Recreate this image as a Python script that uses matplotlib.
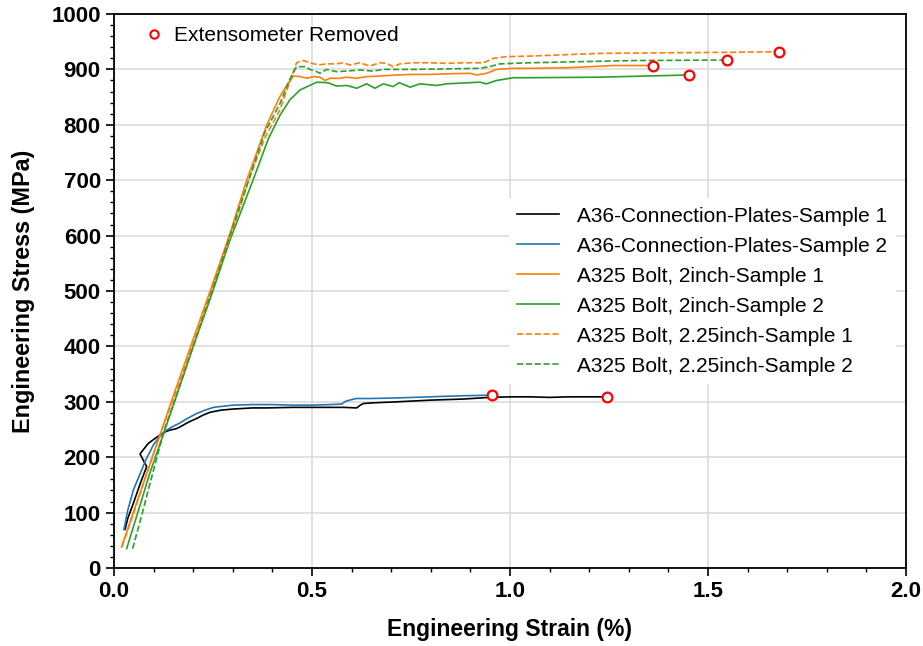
"""Engineering stress-strain curves for A36 plates and A325 bolts."""

import matplotlib

matplotlib.use("Agg")
import matplotlib.pyplot as plt
from matplotlib.lines import Line2D
from matplotlib.ticker import MultipleLocator

plt.rcParams["font.family"] = ["Liberation Sans", "DejaVu Sans"]

# A36 connection plates
a36_s1_strain = [0.028, 0.035, 0.049, 0.065, 0.0825, 0.0657, 0.0866, 0.1, 0.112, 0.13, 0.141,
                 0.155, 0.162, 0.175, 0.19, 0.209, 0.225, 0.242, 0.27, 0.301, 0.35, 0.386, 0.45,
                 0.52, 0.58, 0.613, 0.622, 0.63, 0.65, 0.714, 0.798, 0.882, 0.949, 1.0, 1.05,
                 1.1, 1.15, 1.2, 1.245]
a36_s1_stress = [70, 90, 117, 150, 183, 206, 225, 232, 238, 246, 249, 251, 253, 258, 264, 270,
                 276, 281, 285, 287, 289, 289, 290, 290, 290, 289, 294, 297, 298, 300, 303, 305,
                 308, 309, 309, 308, 309, 309, 309]

a36_s2_strain = [0.025, 0.035, 0.049, 0.06, 0.07, 0.08, 0.091, 0.1, 0.112, 0.122, 0.133, 0.15,
                 0.167, 0.185, 0.209, 0.23, 0.251, 0.275, 0.301, 0.35, 0.4, 0.45, 0.5, 0.545,
                 0.575, 0.585, 0.6, 0.613, 0.65, 0.714, 0.798, 0.882, 0.954]
a36_s2_stress = [69, 105, 141, 160, 177, 195, 210, 223, 234, 242, 249, 256, 262, 270, 279, 285,
                 290, 292, 294, 295, 295, 294, 294, 295, 296, 301, 304, 306, 306, 307, 309, 311,
                 312]

# A325 bolt, 2 inch
b2_s1_strain = [0.019, 0.05, 0.08, 0.116, 0.146, 0.2, 0.25, 0.293, 0.335, 0.386, 0.419, 0.436,
                0.453, 0.47, 0.487, 0.503, 0.52, 0.533, 0.545, 0.57, 0.587, 0.612, 0.638, 0.671,
                0.714, 0.756, 0.798, 0.84, 0.899, 0.916, 0.941, 0.966, 1.008, 1.05, 1.143, 1.265,
                1.345, 1.36]
b2_s1_stress = [38, 103, 165, 240, 303, 413, 515, 604, 700, 800, 851, 871, 888, 887, 884, 887,
                886, 880, 884, 884, 886, 884, 887, 888, 890, 891, 891, 892, 893, 890, 893, 900,
                902, 902, 903, 907, 907, 907]

b2_s2_strain = [0.032, 0.06, 0.09, 0.12, 0.154, 0.2, 0.242, 0.293, 0.351, 0.39, 0.419, 0.444,
                0.47, 0.512, 0.54, 0.562, 0.588, 0.613, 0.638, 0.659, 0.68, 0.705, 0.72, 0.748,
                0.773, 0.815, 0.84, 0.924, 0.94, 0.966, 1.008, 1.05, 1.227, 1.453]
b2_s2_stress = [35, 100, 170, 232, 303, 400, 484, 592, 700, 775, 817, 845, 863, 877, 876, 870,
                871, 866, 874, 866, 874, 869, 876, 868, 874, 871, 874, 877, 874, 880, 885, 885,
                886, 890]

# A325 bolt, 2.25 inch
b225_s1_strain = [0.02, 0.05, 0.08, 0.116, 0.15, 0.2, 0.25, 0.3, 0.34, 0.38, 0.419, 0.444, 0.461,
                  0.478, 0.495, 0.516, 0.537, 0.562, 0.579, 0.596, 0.621, 0.646, 0.671, 0.688,
                  0.705, 0.722, 0.756, 0.798, 0.84, 0.882, 0.933, 0.958, 0.991, 1.05, 1.227, 1.4,
                  1.564, 1.68]
b225_s1_stress = [38, 100, 165, 240, 305, 405, 510, 610, 700, 775, 827, 878, 912, 916, 912, 908,
                  910, 910, 912, 908, 912, 906, 912, 911, 905, 910, 912, 912, 911, 912, 912, 920,
                  923, 924, 929, 930, 931, 932]

b225_s2_strain = [0.047, 0.07, 0.09, 0.116, 0.13, 0.154, 0.2, 0.25, 0.293, 0.34, 0.38, 0.419,
                  0.444, 0.461, 0.482, 0.495, 0.512, 0.52, 0.537, 0.562, 0.587, 0.621, 0.654, 0.68,
                  0.705, 0.756, 0.84, 0.924, 0.949, 0.974, 1.05, 1.311, 1.547]
b225_s2_stress = [35, 95, 150, 220, 255, 303, 400, 505, 600, 700, 785, 838, 882, 905, 905, 900,
                  896, 893, 900, 896, 897, 899, 897, 900, 900, 900, 901, 902, 905, 910, 912, 916,
                  917]

# Points where the extensometer was removed
removed_strain = [0.954, 1.245, 1.36, 1.453, 1.547, 1.68]
removed_stress = [312, 309, 907, 890, 917, 932]

series = [
    ("A36-Connection-Plates-Sample 1", a36_s1_strain, a36_s1_stress, "black", "-"),
    ("A36-Connection-Plates-Sample 2", a36_s2_strain, a36_s2_stress, "#1f77b4", "-"),
    ("A325 Bolt, 2inch-Sample 1", b2_s1_strain, b2_s1_stress, "#ff7f0e", "-"),
    ("A325 Bolt, 2inch-Sample 2", b2_s2_strain, b2_s2_stress, "#2ca02c", "-"),
    ("A325 Bolt, 2.25inch-Sample 1", b225_s1_strain, b225_s1_stress, "#ff7f0e", "--"),
    ("A325 Bolt, 2.25inch-Sample 2", b225_s2_strain, b225_s2_stress, "#2ca02c", "--"),
]

fig = plt.figure(figsize=(9.23, 6.46), dpi=100)
ax = fig.add_axes([0.1235, 0.1207, 0.858, 0.8576])

lines = []
for label, x, y, color, ls in series:
    (ln,) = ax.plot(x, y, color=color, linestyle=ls, linewidth=1.2, label=label, zorder=3)
    lines.append(ln)

ax.plot(removed_strain, removed_stress, linestyle="none", marker="o", markersize=7,
        markerfacecolor="white", markeredgecolor="red", markeredgewidth=1.6, zorder=4)

ax.set_xlim(0, 2.0)
ax.set_ylim(0, 1000)
ax.xaxis.set_major_locator(MultipleLocator(0.5))
ax.xaxis.set_minor_locator(MultipleLocator(0.1))
ax.yaxis.set_major_locator(MultipleLocator(100))
ax.yaxis.set_minor_locator(MultipleLocator(20))
ax.tick_params(which="major", direction="out", length=6, width=1.2, labelsize=16)
ax.tick_params(which="minor", direction="out", length=3, width=1.0)
for lbl in ax.get_xticklabels() + ax.get_yticklabels():
    lbl.set_fontweight("bold")
for sp in ax.spines.values():
    sp.set_linewidth(1.3)

ax.grid(True, which="major", color="#dcdcdc", linewidth=1.2, zorder=0)
ax.set_axisbelow(True)

ax.set_xlabel("Engineering Strain (%)", fontsize=16.5, fontweight="bold", labelpad=11)
ax.set_ylabel("Engineering Stress (MPa)", fontsize=16.8, fontweight="bold", labelpad=12)

# Marker legend at upper left
marker_handle = Line2D([], [], linestyle="none", marker="o", markersize=6,
                       markerfacecolor="white", markeredgecolor="red", markeredgewidth=1.5)
leg1 = ax.legend([marker_handle], ["Extensometer Removed"], loc="upper left",
                 bbox_to_anchor=(0.0265, 0.993), borderaxespad=0, frameon=False, fontsize=15,
                 handlelength=1.0, handletextpad=0.46)
ax.add_artist(leg1)

leg2 = ax.legend(handles=lines, loc="upper left", bbox_to_anchor=(0.499, 0.6675),
                 borderaxespad=0, fontsize=15, frameon=True, framealpha=1, edgecolor="none",
                 fancybox=False, handlelength=2.0, handletextpad=0.87, labelspacing=0.53)

fig.savefig("out.png", dpi=100)
